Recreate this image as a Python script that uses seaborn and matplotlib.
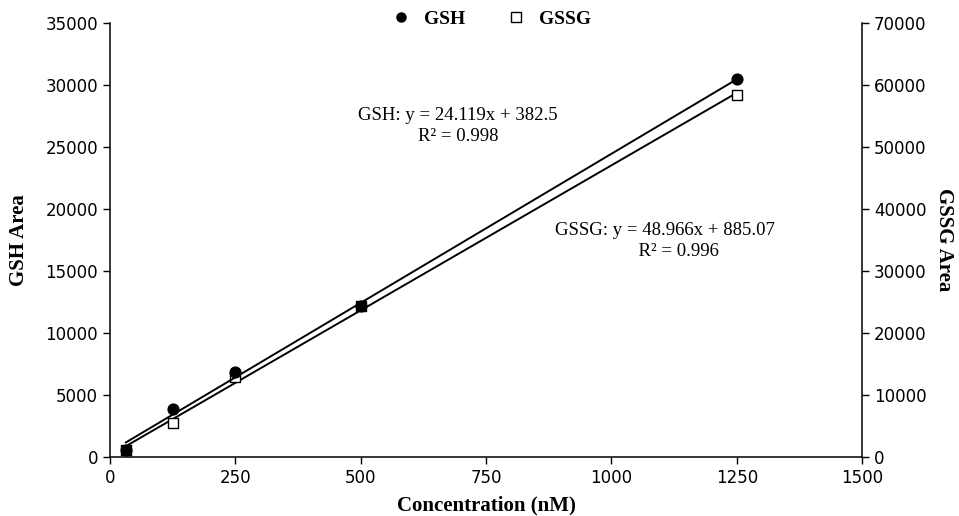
import matplotlib
matplotlib.use("Agg")
import matplotlib.pyplot as plt
import seaborn as sns
import pandas as pd
from matplotlib.lines import Line2D

# data
conc = [31.25, 125, 250, 500, 1250]
gsh_area = [600, 3850, 6850, 12150, 30480]
gssg_area = [1100, 5550, 12900, 24300, 58400]

df = pd.DataFrame({"conc": conc, "gsh": gsh_area, "gssg": gssg_area})

sns.set_style("ticks")
plt.rcParams["font.family"] = ["DejaVu Sans"]
plt.rcParams["text.color"] = "black"
plt.rcParams["axes.labelcolor"] = "black"
serif = ["Liberation Serif", "DejaVu Serif"]

fig = plt.figure(figsize=(9.59, 5.16), dpi=100)
ax = fig.add_axes([0.1147, 0.1143, 0.7843, 0.8407])
ax2 = ax.twinx()

sns.regplot(data=df, x="conc", y="gsh", ax=ax, ci=None, color="black",
            marker="o", scatter_kws={"s": 60, "color": "black", "alpha": 1, "zorder": 4},
            line_kws={"lw": 1.4, "color": "black"})
sns.regplot(data=df, x="conc", y="gssg", ax=ax2, ci=None, color="black",
            marker="s", scatter_kws={"s": 60, "facecolor": "white", "alpha": 1,
                                     "edgecolor": "black", "linewidths": 1.0, "zorder": 4},
            line_kws={"lw": 1.4, "color": "black"})

ax.set_xlim(0, 1500)
ax.set_ylim(0, 35000)
ax2.set_ylim(0, 70000)
ax.set_xticks(range(0, 1501, 250))
ax.set_yticks(range(0, 35001, 5000))
ax2.set_yticks(range(0, 70001, 10000))

for a in (ax, ax2):
    a.tick_params(labelsize=12, length=5, width=1, colors="black")
    for s in a.spines.values():
        s.set_linewidth(1.1)
        s.set_color("black")
    a.spines["top"].set_visible(False)
ax.spines["right"].set_visible(False)
ax2.spines["left"].set_visible(False)
ax2.spines["bottom"].set_visible(False)

ax.set_xlabel("Concentration (nM)", fontsize=15, fontweight="bold", family=serif, labelpad=6)
ax.set_ylabel("GSH Area", fontsize=15, fontweight="bold", family=serif, labelpad=12)
ax2.set_ylabel("GSSG Area", fontsize=15, fontweight="bold", family=serif,
               rotation=270, labelpad=20)

ax.text(694, 26700, "GSH: y = 24.119x + 382.5\nR² = 0.998", ha="center", va="center",
        fontsize=13.5, family=serif, multialignment="center", linespacing=1.3)
ax.text(1106, 17400, "GSSG: y = 48.966x + 885.07\n      R² = 0.996", ha="center", va="center",
        fontsize=13.5, family=serif, multialignment="center", linespacing=1.3)

handles = [
    Line2D([], [], ls="none", marker="o", color="black", markersize=6.5),
    Line2D([], [], ls="none", marker="s", markerfacecolor="white",
           markeredgecolor="black", markersize=6.5),
]
leg = ax.legend(handles, ["GSH", "GSSG"], loc="center", bbox_to_anchor=(0.5, 1.01),
                ncol=2, frameon=False, handletextpad=0.2, columnspacing=1.6,
                prop={"family": serif, "weight": "bold", "size": 14})

ax.set_zorder(ax2.get_zorder() + 1)
ax.patch.set_visible(False)

fig.savefig("out.png", dpi=100)
